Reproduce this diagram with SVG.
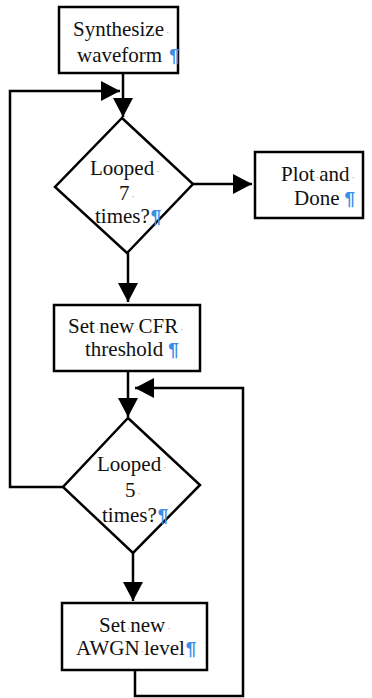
<svg xmlns="http://www.w3.org/2000/svg" width="372" height="698" viewBox="0 0 372 698">
<defs>
<style>
.box{fill:#fff;stroke:#000;stroke-width:2.5}
.ln{fill:none;stroke:#000;stroke-width:2.5}
.t{font-family:"Liberation Serif","Times New Roman",serif;font-size:21px;fill:#111}
.d{fill:#999;font-size:10px}
.p{fill:#3a8ee6;font-family:"Liberation Sans",Arial,sans-serif;font-weight:bold;font-size:19px}
</style>
<marker id="ah" markerUnits="userSpaceOnUse" markerWidth="20" markerHeight="20" refX="19" refY="10" orient="auto">
<path d="M0,0 L19,10 L0,20 z" fill="#000"/>
</marker>
</defs>
<rect width="372" height="698" fill="#fff"/>
<g id="connectors">
<path class="ln" d="M123,73 V117" marker-end="url(#ah)"/>
<path class="ln" d="M63,487 H10 V91 H120" marker-end="url(#ah)"/>
<path class="ln" d="M193,184 H252" marker-end="url(#ah)"/>
<path class="ln" d="M128,253 V302" marker-end="url(#ah)"/>
<path class="ln" d="M128,371 V417" marker-end="url(#ah)"/>
<path class="ln" d="M133,553 V601" marker-end="url(#ah)"/>
<path class="ln" d="M135,671 V696 H243 V388 H135" marker-end="url(#ah)"/>
</g>
<g id="synthesize">
<rect class="box" x="59" y="7" width="119" height="66"/>
<text class="t" x="73" y="36">Synthesize<tspan class="d" dx="2">·</tspan></text>
<text class="t" x="77" y="62">waveform<tspan class="p" dx="7">¶</tspan></text>
</g>
<g id="looped7">
<polygon class="box" points="122,118 193,184 127,253 55,187"/>
<text class="t" x="90" y="175">Looped<tspan class="d" dx="2">·</tspan></text>
<text class="t" x="119" y="200">7<tspan class="d" dx="2">·</tspan></text>
<text class="t" x="95" y="223">times?<tspan class="p" dx="1">¶</tspan></text>
</g>
<g id="plot">
<rect class="box" x="255" y="152" width="108" height="66"/>
<text class="t" x="281" y="181">Plot<tspan class="d" dx="1">·</tspan>and<tspan class="d" dx="2">·</tspan></text>
<text class="t" x="294" y="205">Done<tspan class="p" dx="5">¶</tspan></text>
</g>
<g id="cfr">
<rect class="box" x="54" y="305" width="146" height="66"/>
<text class="t" x="68" y="333">Set<tspan class="d" dx="1">·</tspan>new<tspan class="d" dx="1">·</tspan>CFR<tspan class="d" dx="2">·</tspan></text>
<text class="t" x="85" y="356">threshold<tspan class="p" dx="5">¶</tspan></text>
</g>
<g id="looped5">
<polygon class="box" points="128,418 200,485 133,553 63,487"/>
<text class="t" x="97" y="471">Looped<tspan class="d" dx="2">·</tspan></text>
<text class="t" x="125" y="497">5<tspan class="d" dx="2">·</tspan></text>
<text class="t" x="102" y="522">times?<tspan class="p" dx="1">¶</tspan></text>
</g>
<g id="awgn">
<rect class="box" x="62" y="603" width="145" height="67"/>
<text class="t" x="99" y="632">Set<tspan class="d" dx="1">·</tspan>new<tspan class="d" dx="2">·</tspan></text>
<text class="t" x="76" y="655">AWGN<tspan class="d" dx="1">·</tspan>level<tspan class="p" dx="1">¶</tspan></text>
</g>
</svg>
